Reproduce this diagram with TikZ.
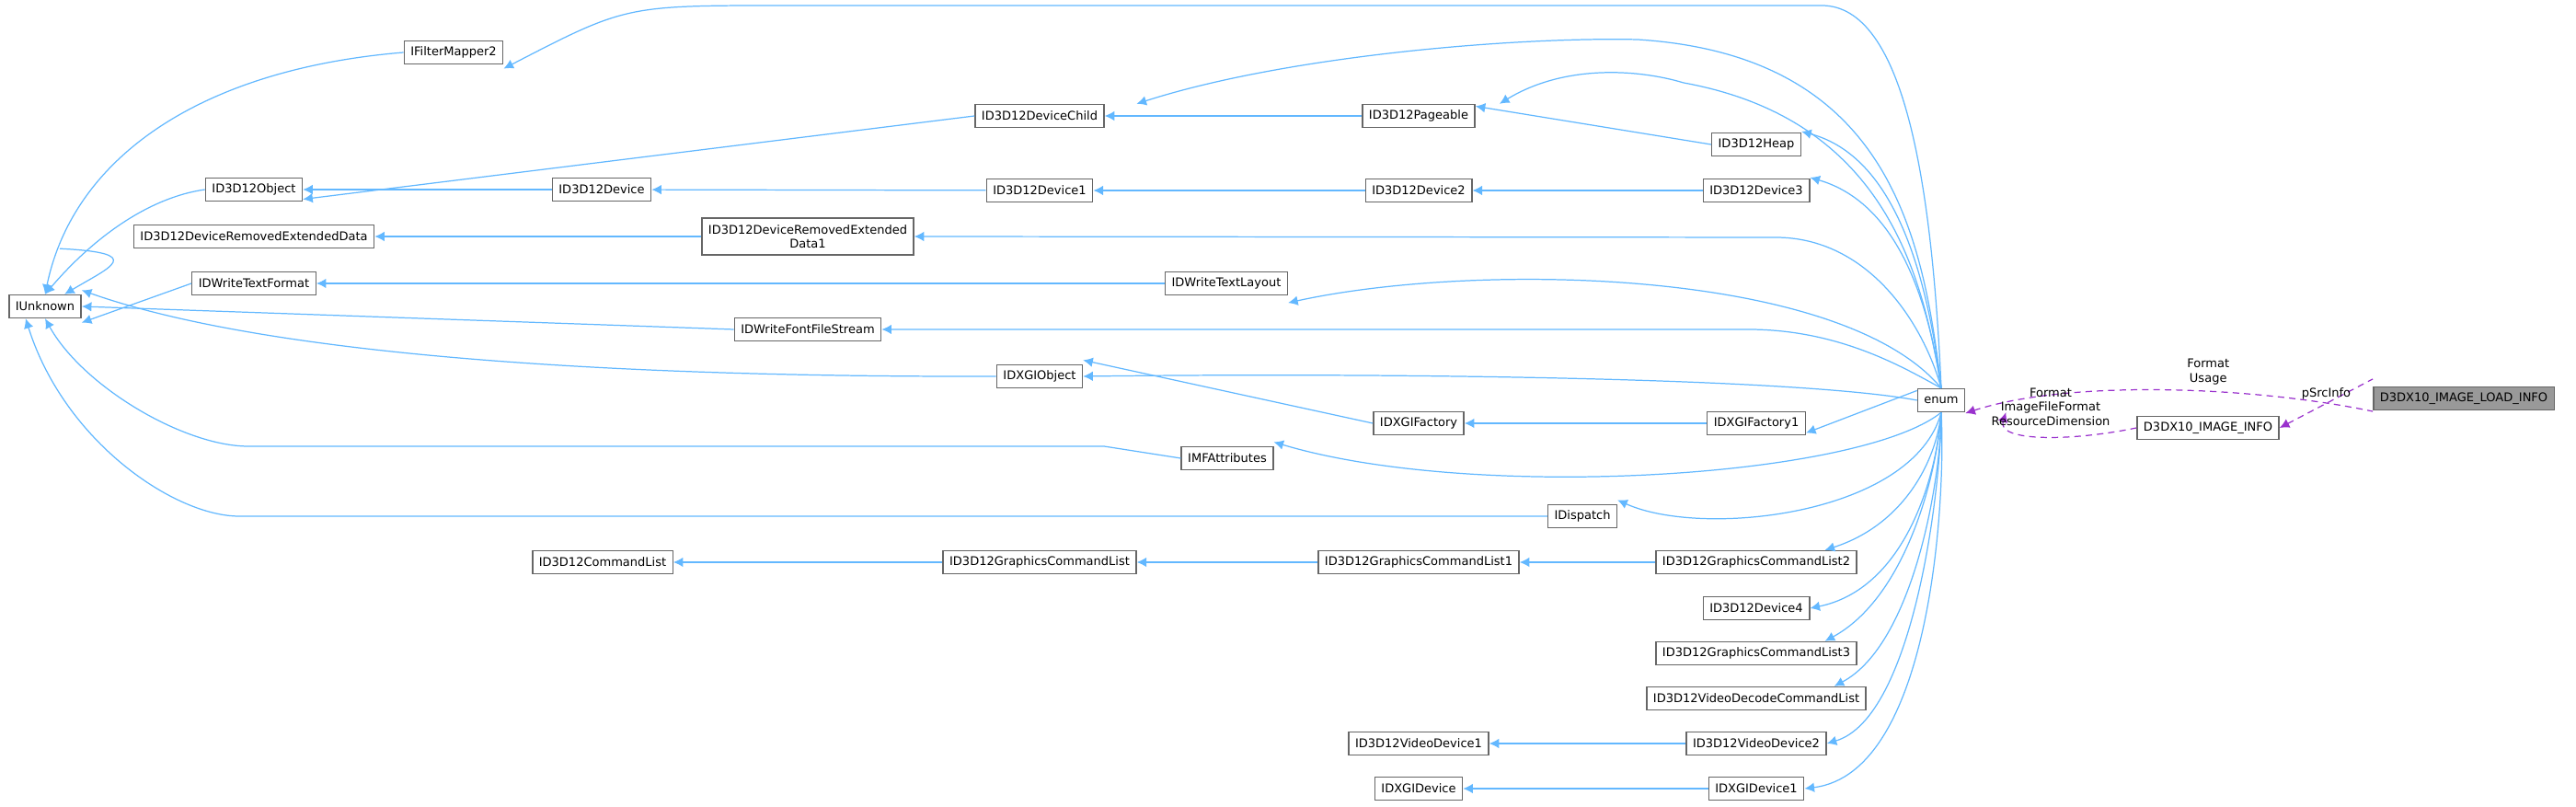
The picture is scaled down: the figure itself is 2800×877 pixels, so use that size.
\documentclass[tikz,border=0pt]{standalone}
\usepackage{fontspec}
\setmainfont{DejaVu Sans}
\usetikzlibrary{arrows.meta}
\definecolor{edgeblue}{RGB}{99,184,255}
\definecolor{dashpurple}{RGB}{154,50,205}
\definecolor{boxgray}{RGB}{102,102,102}
\tikzset{
  cls/.style={draw=boxgray, fill=white, line width=0.4pt, inner xsep=2pt, inner ysep=0pt,
    minimum height=0.25cm, font=\fontsize{3.7}{4.4}\selectfont, align=center},
  main/.style={cls, fill=black!40},
  inh/.style={draw=edgeblue, line width=0.35pt, {Latex[length=3pt,width=3pt]}-},
  use/.style={draw=dashpurple, line width=0.35pt, dashed, dash pattern=on 2pt off 1.5pt, {Latex[length=3pt,width=3pt]}-},
  lbl/.style={font=\fontsize{3.7}{4.4}\selectfont, align=center, inner sep=0pt}
}
\begin{document}
\begin{tikzpicture}[x=0.01cm, y=-0.01cm]
  \useasboundingbox (0,0) rectangle (2800,877);

  % Clases
  \node[cls] (unk) at (49,333) {IUnknown};
  \node[cls] (fm2) at (493,57) {IFilterMapper2};
  \node[cls] (obj) at (276,206) {ID3D12Object};
  \node[cls] (dred) at (276,257) {ID3D12DeviceRemovedExtendedData};
  \node[cls] (dwtf) at (276,308) {IDWriteTextFormat};
  \node[cls] (dev) at (654,206) {ID3D12Device};
  \node[cls, minimum height=0.4cm] (dred1) at (878,257) {ID3D12DeviceRemovedExtended\\Data1};
  \node[cls] (dwffs) at (878,358) {IDWriteFontFileStream};
  \node[cls] (cmdl) at (655,611) {ID3D12CommandList};
  \node[cls] (child) at (1130,126) {ID3D12DeviceChild};
  \node[cls] (dev1) at (1130,207) {ID3D12Device1};
  \node[cls] (dxgio) at (1130,409) {IDXGIObject};
  \node[cls] (gcl) at (1130,611) {ID3D12GraphicsCommandList};
  \node[cls] (dwtl) at (1333,308) {IDWriteTextLayout};
  \node[cls] (mfa) at (1334,498) {IMFAttributes};
  \node[cls] (page) at (1542,126) {ID3D12Pageable};
  \node[cls] (dev2) at (1542,207) {ID3D12Device2};
  \node[cls] (fac) at (1542,460) {IDXGIFactory};
  \node[cls] (gcl1) at (1542,611) {ID3D12GraphicsCommandList1};
  \node[cls] (vdev1) at (1542,808) {ID3D12VideoDevice1};
  \node[cls] (dxgid) at (1542,857) {IDXGIDevice};
  \node[cls] (disp) at (1720,561) {IDispatch};
  \node[cls] (heap) at (1909,157) {ID3D12Heap};
  \node[cls] (dev3) at (1909,207) {ID3D12Device3};
  \node[cls] (fac1) at (1909,460) {IDXGIFactory1};
  \node[cls] (gcl2) at (1909,611) {ID3D12GraphicsCommandList2};
  \node[cls] (dev4) at (1909,661) {ID3D12Device4};
  \node[cls] (gcl3) at (1909,710) {ID3D12GraphicsCommandList3};
  \node[cls] (vdcl) at (1909,759) {ID3D12VideoDecodeCommandList};
  \node[cls] (vdev2) at (1909,808) {ID3D12VideoDevice2};
  \node[cls] (dxgid1) at (1909,857) {IDXGIDevice1};
  \node[cls] (enum) at (2110,435) {enum};
  \node[cls] (info) at (2400,465) {D3DX10\_IMAGE\_INFO};
  \node[main] (load) at (2678,433) {D3DX10\_IMAGE\_LOAD\_INFO};

  % Herencia hacia IUnknown
  \draw[inh] (unk.north) .. controls (80,170) and (220,75) .. (fm2.west);
  \draw[inh] (unk.north) .. controls (100,260) and (160,215) .. (obj.west);
  \draw[inh] ([xshift=6]unk.north) .. controls (120,290) and (160,275) .. ([xshift=-60]dred.south);
  \draw[inh] ([yshift=-5]unk.east) -- (dwtf.west);
  \draw[inh] (unk.east) -- (dwffs.west);
  \draw[inh] ([yshift=5]unk.east) .. controls (300,390) and (700,410) .. (dxgio.west);
  \draw[inh] (unk.south) .. controls (90,420) and (200,485) .. (270,485) -- (1200,485) -- (mfa.west);
  \draw[inh] ([xshift=-6]unk.south) .. controls (70,480) and (190,561) .. (260,561) -- (disp.west);

  % Cadenas horizontales
  \draw[inh] ([yshift=-3]obj.east) -- (child.west);
  \draw[inh] (obj) -- (dev);
  \draw[inh] (dev) -- (dev1);
  \draw[inh] (dev1) -- (dev2);
  \draw[inh] (dev2) -- (dev3);
  \draw[inh] (child) -- (page);
  \draw[inh] ([yshift=3]page.east) -- (heap.west);
  \draw[inh] (dred) -- (dred1);
  \draw[inh] (dwtf) -- (dwtl);
  \draw[inh] ([yshift=5]dxgio.east) -- (fac.west);
  \draw[inh] (fac) -- (fac1);
  \draw[inh] (cmdl) -- (gcl);
  \draw[inh] (gcl) -- (gcl1);
  \draw[inh] (gcl1) -- (gcl2);
  \draw[inh] (vdev1) -- (vdev2);
  \draw[inh] (dxgid) -- (dxgid1);

  % Desde enum
  \draw[inh] ([yshift=-5]fm2.east) .. controls (680,6) .. (850,6) -- (1980,6) .. controls (2070,6) and (2100,200) .. (enum.north);
  \draw[inh] ([xshift=30]child.north) .. controls (1400,60) and (1650,40) .. (1780,43) .. controls (2050,60) and (2090,250) .. (enum.north);
  \draw[inh] ([xshift=25]page.north) .. controls (1700,70) and (1780,75) .. (1830,90) .. controls (2050,130) and (2090,300) .. (enum.north);
  \draw[inh] ([yshift=4]heap.east) .. controls (2060,170) and (2095,300) .. (enum.north);
  \draw[inh] ([yshift=4]dev3.east) .. controls (2060,220) and (2095,320) .. (enum.north);
  \draw[inh] (dred1.east) -- (1930,258) .. controls (2030,258) and (2090,350) .. (enum.north);
  \draw[inh] ([yshift=-6]dwtl.east) .. controls (1600,285) and (2000,290) .. (enum.north);
  \draw[inh] (dwffs.east) -- (1900,358) .. controls (2000,358) and (2070,400) .. (enum.north);
  \draw[inh] (dxgio.east) .. controls (1500,405) and (1950,410) .. (enum.west);
  \draw[inh] ([yshift=-3]fac1.east) -- ([yshift=3]enum.west);
  \draw[inh] ([yshift=5]mfa.east) .. controls (1600,545) and (2020,520) .. (enum.south);
  \draw[inh] ([yshift=5]disp.east) .. controls (1850,585) and (2080,560) .. (enum.south);
  \draw[inh] ([xshift=-10]gcl2.north east) .. controls (2070,570) and (2105,500) .. (enum.south);
  \draw[inh] (dev4.east) .. controls (2070,640) and (2105,520) .. (enum.south);
  \draw[inh] ([xshift=-10]gcl3.north east) .. controls (2070,650) and (2105,520) .. (enum.south);
  \draw[inh] ([xshift=-10]vdcl.north east) .. controls (2080,700) and (2110,520) .. (enum.south);
  \draw[inh] (vdev2.east) .. controls (2080,780) and (2110,530) .. (enum.south);
  \draw[inh] (dxgid1.east) .. controls (2100,840) and (2115,540) .. (enum.south);

  % Relaciones de uso
  \draw[use] ([yshift=-4]enum.east) .. controls (2250,412) and (2450,420) .. ([yshift=-4]load.west)
    node[lbl, pos=0.6, above=2pt] {Format\\Usage};
  \draw[use] (info.east) -- ([yshift=6]load.west) node[lbl, midway, above=1pt] {pSrcInfo};
  \draw[use] ([xshift=20]enum.south) .. controls (2170,480) and (2250,480) .. (info.west);
  \node[lbl] (infolbl) at (2229,442) {Format\\ImageFileFormat\\ResourceDimension};
\end{tikzpicture}
\end{document}
